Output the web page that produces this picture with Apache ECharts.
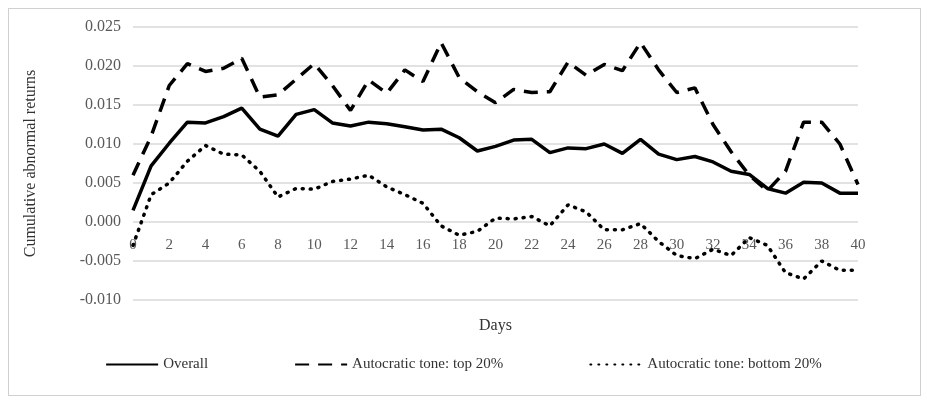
<!DOCTYPE html>
<html>
<head>
<meta charset="utf-8">
<script src="https://cdn.jsdelivr.net/npm/echarts@6/dist/echarts.min.js"></script>
<style>
  html, body { margin: 0; padding: 0; background: #fff; }
  #frame { position: absolute; left: 8px; top: 8px; width: 911px; height: 386px; border: 1px solid #d0d0d0; }
  #chart { width: 927px; height: 404px; }
</style>
</head>
<body>
<div id="frame"></div>
<div id="chart"></div>
<script>
var days = [];
for (var d = 0; d <= 40; d++) days.push(String(d));

var overall = [0.0015, 0.0072, 0.0101, 0.0128, 0.0127, 0.0135, 0.0146, 0.0119, 0.0110, 0.0138,
  0.0144, 0.0127, 0.0123, 0.0128, 0.0126, 0.0122, 0.0118, 0.0119, 0.0108, 0.0091,
  0.0097, 0.0105, 0.0106, 0.0089, 0.0095, 0.0094, 0.0100, 0.0088, 0.0106, 0.0087,
  0.0080, 0.0084, 0.0077, 0.0065, 0.0061, 0.0043, 0.0037, 0.0051, 0.0050, 0.0037, 0.0037];

var top20 = [0.0060, 0.0110, 0.0175, 0.0203, 0.0193, 0.0197, 0.0210, 0.0160, 0.0163, 0.0183,
  0.0203, 0.0175, 0.0143, 0.0182, 0.0165, 0.0195, 0.0180, 0.0230, 0.0185, 0.0167,
  0.0153, 0.0170, 0.0166, 0.0167, 0.0205, 0.0188, 0.0202, 0.0194, 0.0230, 0.0195,
  0.0166, 0.0172, 0.0125, 0.0090, 0.0060, 0.0040, 0.0065, 0.0128, 0.0128, 0.0100, 0.0048];

var bottom20 = [-0.0030, 0.0035, 0.0050, 0.0078, 0.0098, 0.0087, 0.0086, 0.0065, 0.0032, 0.0043,
  0.0042, 0.0052, 0.0055, 0.0060, 0.0045, 0.0035, 0.0024, -0.0005, -0.0017, -0.0012,
  0.0005, 0.0004, 0.0007, -0.0005, 0.0022, 0.0013, -0.0010, -0.0010, -0.0002, -0.0025,
  -0.0043, -0.0047, -0.0035, -0.0043, -0.0020, -0.0030, -0.0065, -0.0073, -0.0050, -0.0062, -0.0062];

var font = '"Liberation Serif", "Times New Roman", serif';

var chart = echarts.init(document.getElementById('chart'));
chart.setOption({
  animation: false,
  textStyle: { fontFamily: font },
  grid: { left: 133, right: 69, top: 27, bottom: 104 },
  legend: {
    bottom: 27,
    itemWidth: 52,
    itemHeight: 10,
    itemGap: 86,
    itemStyle: { opacity: 0 },
    textStyle: { fontFamily: font, fontSize: 15, color: '#333' },
    data: ['Overall', 'Autocratic tone: top 20%', 'Autocratic tone: bottom 20%']
  },
  xAxis: {
    type: 'category',
    data: days,
    boundaryGap: false,
    name: 'Days',
    nameLocation: 'middle',
    nameGap: 18,
    nameTextStyle: { fontFamily: font, fontSize: 16, color: '#333' },
    axisLine: { onZero: false, show: false },
    axisTick: { show: false },
    axisLabel: {
      interval: 1, fontFamily: font, fontSize: 15, color: '#595959', margin: -62
    }
  },
  yAxis: {
    type: 'value',
    min: -0.010,
    max: 0.025,
    interval: 0.005,
    name: 'Cumulative abnormal returns',
    nameLocation: 'middle',
    nameGap: 94,
    nameTextStyle: { fontFamily: font, fontSize: 16, color: '#333' },
    axisLine: { show: false },
    axisTick: { show: false },
    axisLabel: {
      fontFamily: font, fontSize: 16, color: '#595959', margin: 12,
      formatter: function (v) { return v.toFixed(3); }
    },
    splitLine: { lineStyle: { color: '#d9d9d9', width: 1.5 } }
  },
  series: [
    { name: 'Overall', type: 'line', data: overall, symbol: 'none',
      lineStyle: { color: '#000', width: 3.5 }, itemStyle: { color: '#000' } },
    { name: 'Autocratic tone: top 20%', type: 'line', data: top20, symbol: 'none',
      lineStyle: { color: '#000', width: 3.5, type: [14, 9] }, itemStyle: { color: '#000' } },
    { name: 'Autocratic tone: bottom 20%', type: 'line', data: bottom20, symbol: 'none',
      lineStyle: { color: '#000', width: 3.5, type: [1, 7], cap: 'round' }, itemStyle: { color: '#000' } }
  ]
});
</script>
</body>
</html>
